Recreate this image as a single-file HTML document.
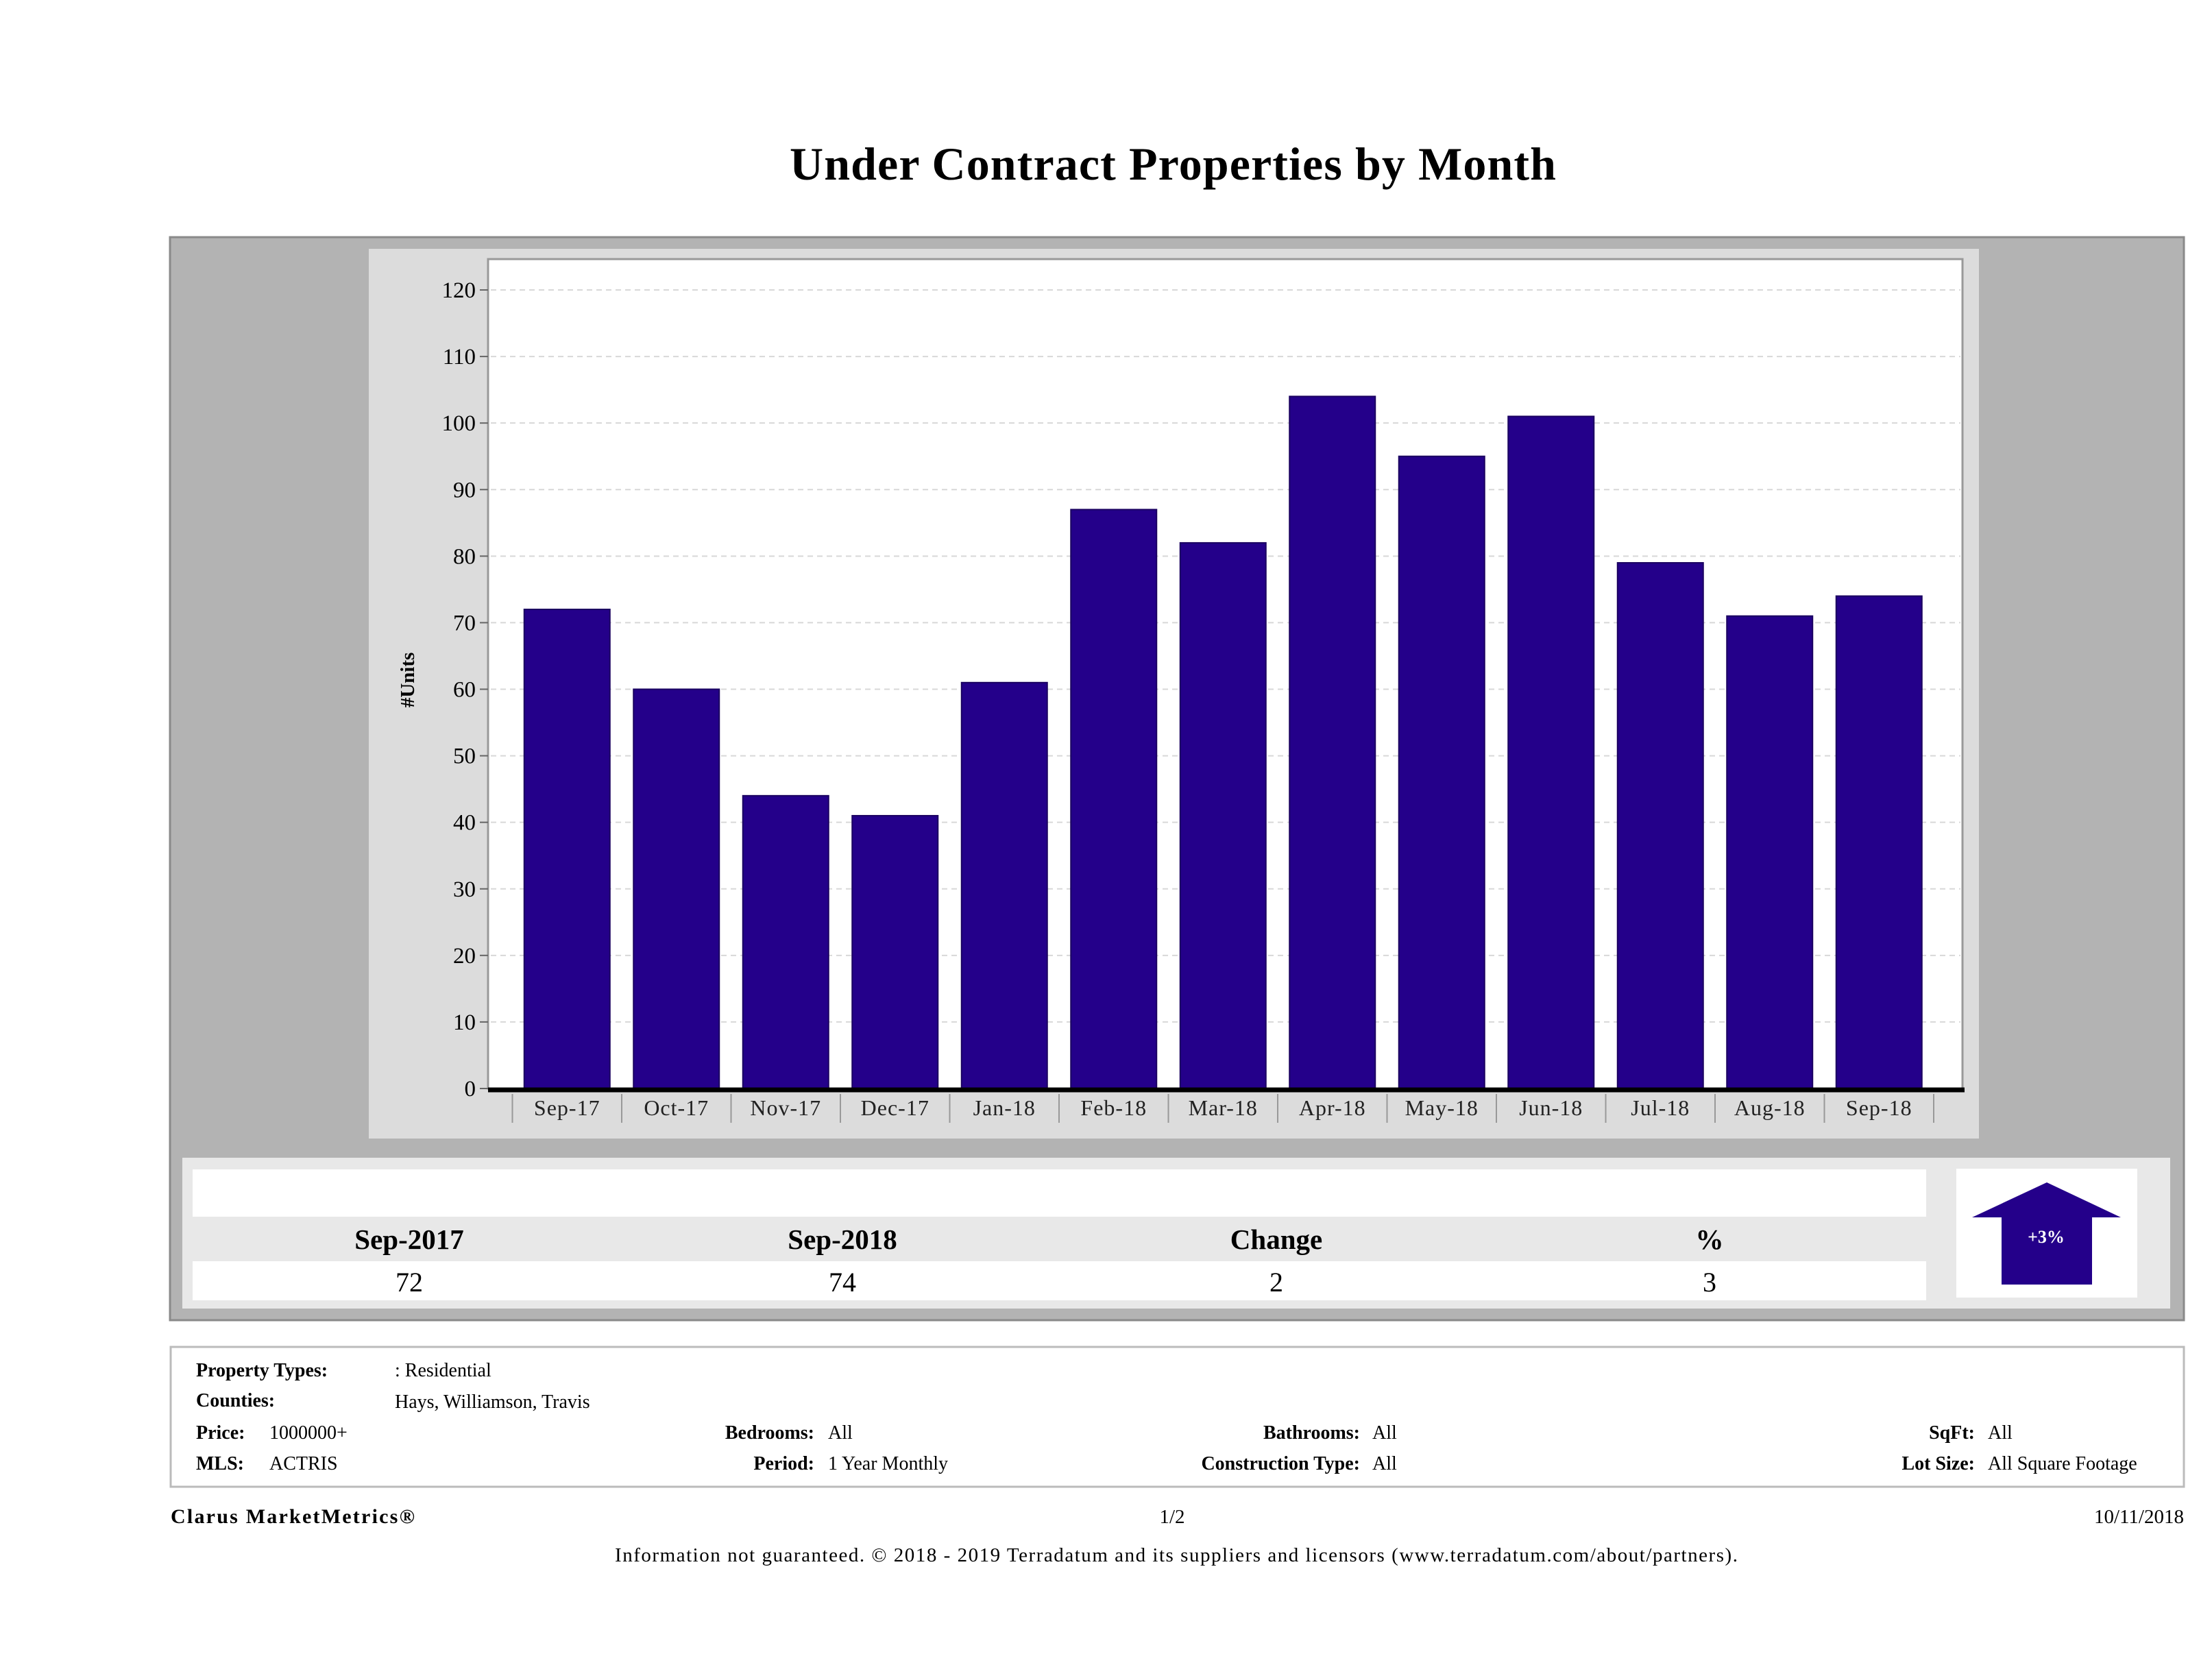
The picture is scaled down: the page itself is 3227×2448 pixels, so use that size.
<!DOCTYPE html>
<html><head><meta charset="utf-8"><style>
html,body{margin:0;padding:0;background:#fff;}
svg{display:block;font-family:"Liberation Serif",serif;}
</style></head><body>
<svg id="svg" width="3227" height="2448" viewBox="0 0 3227 2448">
<text x="1152" y="262" font-size="68" font-weight="bold" textLength="1118" lengthAdjust="spacing">Under Contract Properties by Month</text>
<rect x="248" y="346" width="2938" height="1580" fill="#b3b3b3" stroke="#8a8a8a" stroke-width="3"/>
<rect x="538" y="363" width="2349" height="1298" fill="#dcdcdc"/>
<rect x="712" y="378" width="2151" height="1210" fill="#fff" stroke="#999" stroke-width="3"/>
<g id="grid"></g>
<g id="bars"></g>
<g id="yaxis"></g>
<g id="xaxis"></g>
<line x1="712" y1="1590" x2="2866" y2="1590" stroke="#000" stroke-width="7"/>
<text transform="translate(604,992) rotate(-90)" font-size="29" font-weight="bold" text-anchor="middle">#Units</text>

<rect x="266" y="1689" width="2900" height="220" fill="#e8e8e8"/>
<rect x="281" y="1706" width="2529" height="69" fill="#fff"/>
<rect x="281" y="1840" width="2529" height="57" fill="#fff"/>
<g font-size="41" font-weight="bold" text-anchor="middle">
<text x="597" y="1822">Sep-2017</text>
<text x="1229" y="1822">Sep-2018</text>
<text x="1862" y="1822">Change</text>
<text x="2494" y="1822">%</text>
</g>
<g font-size="40" text-anchor="middle">
<text x="597" y="1884">72</text>
<text x="1229" y="1884">74</text>
<text x="1862" y="1884">2</text>
<text x="2494" y="1884">3</text>
</g>
<rect x="2854" y="1705" width="264" height="188" fill="#fff"/>
<polygon points="2986,1725 3094,1776 3052,1776 3052,1874 2920,1874 2920,1776 2877,1776" fill="#24008a"/>
<text x="2985" y="1813" font-size="26" font-weight="bold" fill="#fff" text-anchor="middle">+3%</text>

<rect x="249" y="1965" width="2937" height="204" fill="#fff" stroke="#bbb" stroke-width="3"/>
<g font-size="28">
<text x="286" y="2008" font-weight="bold">Property Types:</text>
<text x="576" y="2008">: Residential</text>
<text x="286" y="2052" font-weight="bold">Counties:</text>
<text x="576" y="2054">Hays, Williamson, Travis</text>
<text x="286" y="2099" font-weight="bold">Price:</text>
<text x="393" y="2099">1000000+</text>
<text x="1188" y="2099" font-weight="bold" text-anchor="end">Bedrooms:</text>
<text x="1208" y="2099">All</text>
<text x="1984" y="2099" font-weight="bold" text-anchor="end">Bathrooms:</text>
<text x="2002" y="2099">All</text>
<text x="2881" y="2099" font-weight="bold" text-anchor="end">SqFt:</text>
<text x="2900" y="2099">All</text>
<text x="286" y="2144" font-weight="bold">MLS:</text>
<text x="393" y="2144">ACTRIS</text>
<text x="1188" y="2144" font-weight="bold" text-anchor="end">Period:</text>
<text x="1208" y="2144">1 Year Monthly</text>
<text x="1984" y="2144" font-weight="bold" text-anchor="end">Construction Type:</text>
<text x="2002" y="2144">All</text>
<text x="2881" y="2144" font-weight="bold" text-anchor="end">Lot Size:</text>
<text x="2900" y="2144">All Square Footage</text>
</g>
<text x="249" y="2222" font-size="30" font-weight="bold" textLength="356" lengthAdjust="spacing">Clarus MarketMetrics®</text>
<text x="1710" y="2222" font-size="29" text-anchor="middle">1/2</text>
<text x="3186" y="2222" font-size="29" text-anchor="end">10/11/2018</text>
<text x="897" y="2278" font-size="29" textLength="1638" lengthAdjust="spacing">Information not guaranteed. © 2018 - 2019 Terradatum and its suppliers and licensors (www.terradatum.com/about/partners).</text>
</svg>
<script>
const categories = ["Sep-17","Oct-17","Nov-17","Dec-17","Jan-18","Feb-18","Mar-18","Apr-18","May-18","Jun-18","Jul-18","Aug-18","Sep-18"];
const units = [72,60,44,41,61,87,82,104,95,101,79,71,74];
const yTicks = [0,10,20,30,40,50,60,70,80,90,100,110,120];

const NS = "http://www.w3.org/2000/svg";
const y0 = 1588, yTop = 423, yMax = 120;
function yScale(v){ return y0 - (v / yMax) * (y0 - yTop); }
const xStart = 747.5, step = 159.5, barW = 125;
function xCenter(i){ return xStart + (i + 0.5) * step; }
function mk(tag, attrs, parent){
  const el = document.createElementNS(NS, tag);
  for (const k in attrs) el.setAttribute(k, attrs[k]);
  parent.appendChild(el);
  return el;
}
const grid = document.getElementById('grid');
const yaxis = document.getElementById('yaxis');
yTicks.forEach(t => {
  const y = yScale(t);
  if (t > 0) {
    const g = mk('line', {x1:716, x2:2860, y1:y, y2:y, stroke:'#d8d8d8', 'stroke-width':2, 'stroke-dasharray':'8,6'}, grid);
    
    
  }
  const tk = mk('line', {x1:700, x2:712, y1:y, y2:y, stroke:'#666', 'stroke-width':2}, yaxis);
  
  
  const lb = mk('text', {x:694, y:y + 11, 'font-size':33, 'text-anchor':'end'}, yaxis);
  lb.textContent = t;
  
  
});
const bars = document.getElementById('bars');
const xaxis = document.getElementById('xaxis');
units.forEach((v, i) => {
  const cx = xCenter(i);
  const r = mk('rect', {x:cx - barW/2, y:yScale(v), width:barW, height:y0 - yScale(v), fill:'#24008a', stroke:'#1a0060', 'stroke-width':2}, bars);
  
  
  const lb = mk('text', {x:cx, y:1627, 'font-size':32, 'text-anchor':'middle', fill:'#222', 'letter-spacing':1}, xaxis);
  lb.textContent = categories[i];
  
  
});
for (let i = 0; i <= categories.length; i++) {
  const x = xStart + i * step;
  const s = mk('line', {x1:x, x2:x, y1:1596, y2:1638, stroke:'#999', 'stroke-width':2}, xaxis);
  
  
}
</script>
</body></html>
